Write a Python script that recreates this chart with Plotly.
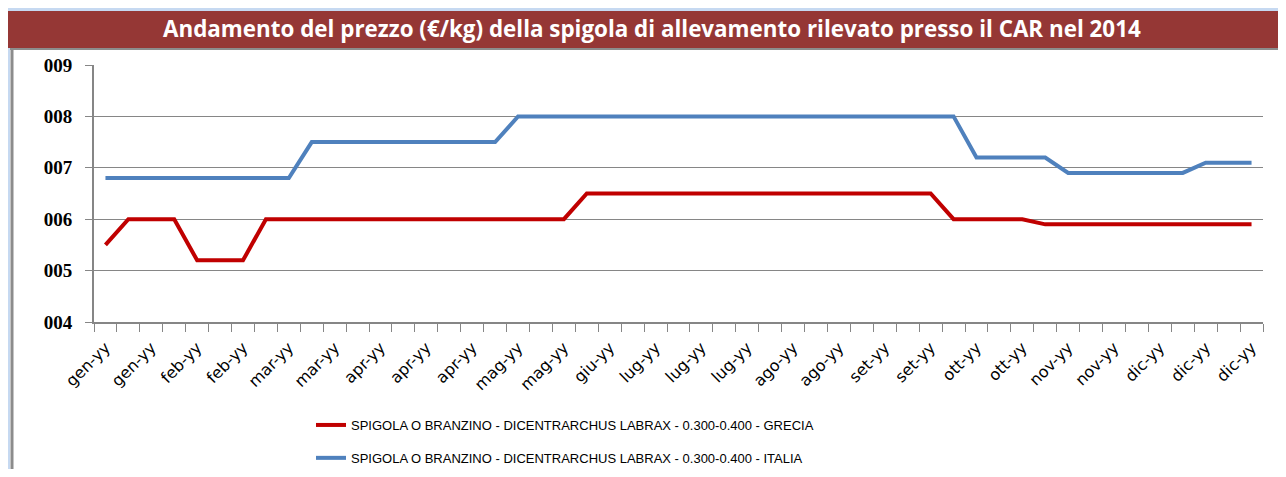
import plotly.graph_objects as go

# ---------------- data ----------------
tick_labels = ["gen-yy", "gen-yy", "feb-yy", "feb-yy", "mar-yy", "mar-yy", "apr-yy",
               "apr-yy", "apr-yy", "mag-yy", "mag-yy", "giu-yy", "lug-yy", "lug-yy",
               "lug-yy", "ago-yy", "ago-yy", "set-yy", "set-yy", "ott-yy", "ott-yy",
               "nov-yy", "nov-yy", "dic-yy", "dic-yy", "dic-yy"]
weeks = list(range(51))
label_weeks = weeks[::2]

grecia = [5.5, 6.0, 6.0, 6.0, 5.2, 5.2, 5.2, 6.0, 6.0, 6.0,
          6.0, 6.0, 6.0, 6.0, 6.0, 6.0, 6.0, 6.0, 6.0, 6.0,
          6.0, 6.5, 6.5, 6.5, 6.5, 6.5, 6.5, 6.5, 6.5, 6.5,
          6.5, 6.5, 6.5, 6.5, 6.5, 6.5, 6.5, 6.0, 6.0, 6.0,
          6.0, 5.9, 5.9, 5.9, 5.9, 5.9, 5.9, 5.9, 5.9, 5.9,
          5.9]
italia = [6.8, 6.8, 6.8, 6.8, 6.8, 6.8, 6.8, 6.8, 6.8, 7.5,
          7.5, 7.5, 7.5, 7.5, 7.5, 7.5, 7.5, 7.5, 8.0, 8.0,
          8.0, 8.0, 8.0, 8.0, 8.0, 8.0, 8.0, 8.0, 8.0, 8.0,
          8.0, 8.0, 8.0, 8.0, 8.0, 8.0, 8.0, 8.0, 7.2, 7.2,
          7.2, 7.2, 6.9, 6.9, 6.9, 6.9, 6.9, 6.9, 7.1, 7.1,
          7.1]

name_gr = "SPIGOLA O BRANZINO - DICENTRARCHUS LABRAX - 0.300-0.400 - GRECIA"
name_it = "SPIGOLA O BRANZINO - DICENTRARCHUS LABRAX - 0.300-0.400 - ITALIA"
title = "Andamento del prezzo (€/kg) della spigola di allevamento rilevato presso il CAR nel 2014"

# ---------------- layout geometry (pixels, page coordinates) ----------------
OFF = 8                      # page body margin
W, H = 1286 - 2 * OFF, 477 - 2 * OFF
L, R, T, B = 94 - OFF, 1263 - OFF, 65 - OFF, 322 - OFF


def px(x):
    return (x - OFF - L) / (R - L)


def py(y):
    return (B - (y - OFF)) / (B - T)


fig = go.Figure()
fig.add_trace(go.Scatter(x=weeks, y=grecia, mode="lines", name=name_gr,
                         line=dict(color="#c00000", width=4), legendgroup="g"))
fig.add_trace(go.Scatter(x=weeks, y=italia, mode="lines", name=name_it,
                         line=dict(color="#4f81bd", width=4), legendgroup="i"))

grey = "#868686"
shapes = [
    # white chart area
    dict(type="rect", xref="paper", yref="paper", x0=px(10), x1=px(1300), y0=py(490), y1=py(49),
         fillcolor="white", line=dict(width=0), layer="below"),
    # left border
    dict(type="line", xref="paper", yref="paper", x0=px(12), x1=px(12), y0=py(49), y1=py(490),
         line=dict(color="#8c8c8c", width=3), layer="below"),
    # line under title bar
    dict(type="line", xref="paper", yref="paper", x0=px(10), x1=px(1300), y0=py(49), y1=py(49),
         line=dict(color="#8c8c8c", width=2), layer="below"),
    # title bar
    dict(type="rect", xref="paper", yref="paper", x0=px(5), x1=px(1300), y0=py(48), y1=py(11),
         fillcolor="#953735", line=dict(width=0), layer="below"),
]

fig.update_layout(
    width=W, height=H,
    margin=dict(l=L, r=W - R, t=T, b=H - B, autoexpand=False),
    paper_bgcolor="#c6d9f1",
    plot_bgcolor="white",
    shapes=shapes,
    showlegend=True,
    legend=dict(orientation="v", x=px(311), xanchor="left", y=py(410), yanchor="top",
                font=dict(family="Liberation Sans, sans-serif", size=13, color="black"),
                bgcolor="rgba(0,0,0,0)", tracegroupgap=13, traceorder="grouped"),
    annotations=[dict(text=title, xref="paper", yref="paper", x=px(652), y=py(28),
                      xanchor="center", yanchor="middle", showarrow=False,
                      font=dict(family="Open Sans, sans-serif", size=22.4, color="white", weight="bold"))],
)

fig.update_xaxes(
    range=[-0.5, 50.5], tickmode="array", tickvals=label_weeks, ticktext=tick_labels,
    tickangle=-45, ticks="", ticklabelstandoff=8, automargin=False,
    tickfont=dict(family="DejaVu Sans, sans-serif", size=16, color="black"),
    showgrid=False, showline=True, linecolor=grey, linewidth=2, zeroline=False,
    minor=dict(tickmode="linear", tick0=-0.5, dtick=1, ticks="outside", ticklen=8,
               tickcolor=grey, tickwidth=1, showgrid=False),
)
fig.update_yaxes(
    range=[4, 9], tickmode="linear", tick0=4, dtick=1, tickformat="03d",
    ticks="outside", ticklen=7, tickcolor=grey, tickwidth=1, automargin=False,
    tickfont=dict(family="Liberation Serif, serif", size=19, color="black", weight="bold"),
    showgrid=True, gridcolor=grey, gridwidth=1,
    showline=True, linecolor=grey, linewidth=2, zeroline=False, ticklabelstandoff=9,
)

fig.write_html("out.html")
